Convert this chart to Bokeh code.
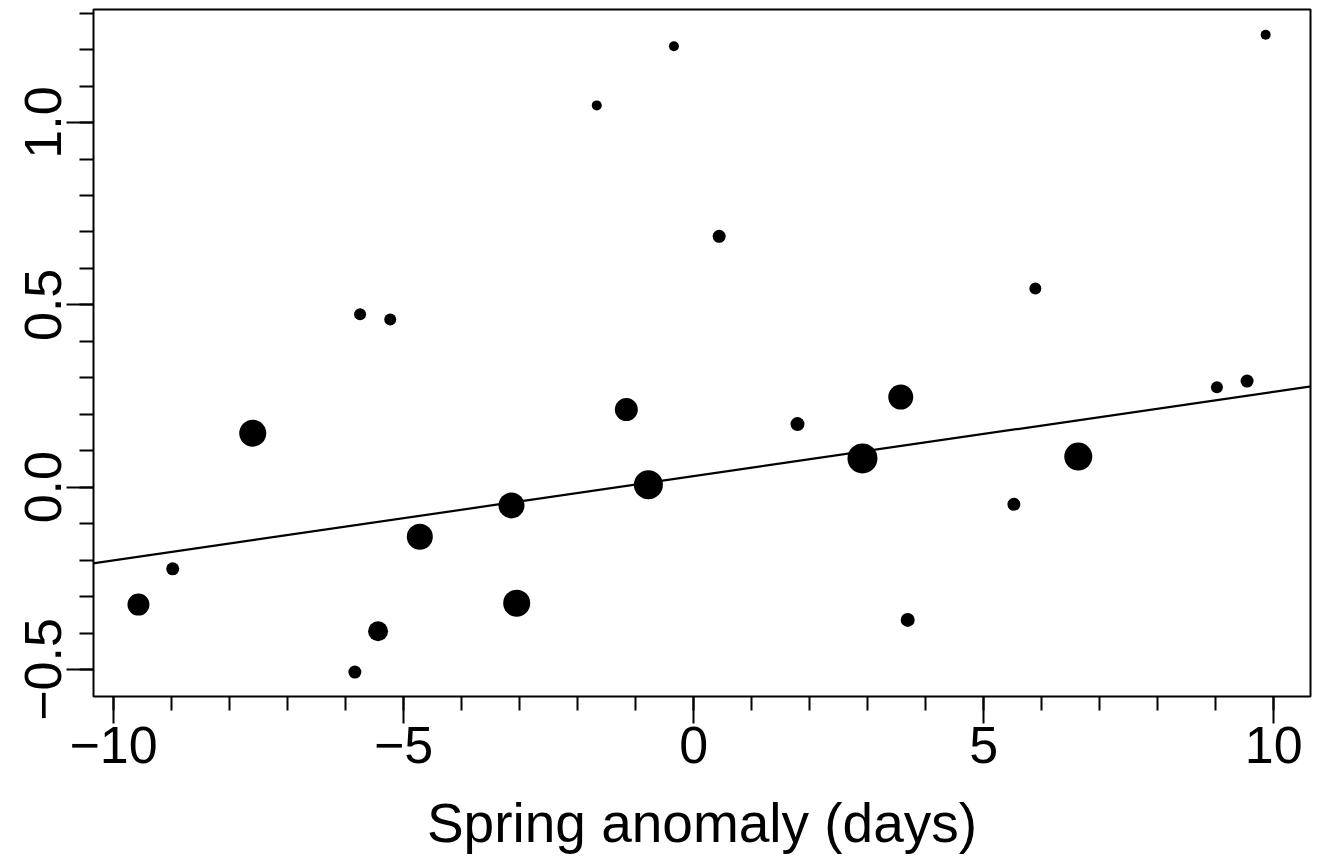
from bokeh.plotting import figure
from bokeh.models import FixedTicker, Slope, ColumnDataSource, Range1d
from bokeh.embed import file_html
from bokeh.resources import INLINE

# ---- data ----
spring_anomaly = [-9.57, -8.98, -7.60, -5.84, -5.75, -5.44, -5.23, -4.72, -3.14, -3.05,
                  -1.67, -1.16, -0.78, -0.34, 0.44, 1.79, 2.91, 3.57, 3.69, 5.52,
                  5.89, 6.63, 9.02, 9.54, 9.86]
response = [-0.322, -0.224, 0.148, -0.507, 0.474, -0.395, 0.460, -0.136, -0.050, -0.318,
            1.047, 0.213, 0.007, 1.209, 0.688, 0.173, 0.079, 0.247, -0.364, -0.047,
            0.545, 0.084, 0.274, 0.291, 1.241]
weight = [2.2, 1.3, 2.7, 1.3, 1.2, 2.0, 1.2, 2.6, 2.6, 2.7,
          1.0, 2.3, 2.9, 1.0, 1.3, 1.4, 3.0, 2.5, 1.4, 1.3,
          1.2, 2.8, 1.2, 1.3, 1.0]
fit_intercept = 0.0305
fit_slope = 0.0231

x_major = [-10, -5, 0, 5, 10]
x_labels = ["\u221210", "\u22125", "0", "5", "10"]
x_minor = list(range(-10, 11))
y_major = [-0.5, 0.0, 0.5, 1.0]
y_labels = ["\u22120.5", "0.0", "0.5", "1.0"]
y_minor = [-0.5, -0.4, -0.3, -0.2, -0.1, 0.0, 0.1, 0.2, 0.3, 0.4, 0.5,
           0.6, 0.7, 0.8, 0.9, 1.0, 1.1, 1.2, 1.3]
x_title = "Spring anomaly (days)"

FONT = "Liberation Sans"

src = ColumnDataSource(dict(x=spring_anomaly, y=response,
                            s=[w * 10 for w in weight]))

p = figure(width=1317, height=857, output_backend="svg", toolbar_location=None,
           x_range=Range1d(-10.345, 10.633), y_range=Range1d(-0.574, 1.310),
           min_border_left=93, min_border_right=7, min_border_top=9,
           min_border_bottom=161)
p.background_fill_color = "white"
p.border_fill_color = "white"
p.grid.visible = False
p.outline_line_color = "black"
p.outline_line_width = 2

p.scatter("x", "y", size="s", source=src, fill_color="black", line_color=None)
p.add_layout(Slope(gradient=fit_slope, y_intercept=fit_intercept,
                   line_color="black", line_width=2.2))

for ax, maj, mnr, labs in ((p.xaxis[0], x_major, x_minor, x_labels),
                           (p.yaxis[0], y_major, y_minor, y_labels)):
    ax.ticker = FixedTicker(ticks=maj, minor_ticks=mnr)
    ax.major_label_overrides = {m: l for m, l in zip(maj, labs)}
    ax.axis_line_color = None
    ax.major_tick_line_color = "black"
    ax.minor_tick_line_color = "black"
    ax.major_tick_line_width = 2
    ax.minor_tick_line_width = 2
    ax.major_tick_in = 0
    ax.minor_tick_in = 0
    ax.major_tick_out = 27
    ax.minor_tick_out = 14
    ax.major_label_text_font = FONT
    ax.major_label_text_font_size = "52px"
    ax.major_label_text_color = "black"

p.xaxis.major_label_standoff = 3
p.yaxis.major_label_standoff = 5
p.yaxis.major_label_orientation = "vertical"
p.xaxis.axis_label = x_title
p.xaxis.axis_label_text_font = FONT
p.xaxis.axis_label_text_font_size = "55px"
p.xaxis.axis_label_text_font_style = "normal"
p.xaxis.axis_label_text_color = "black"
p.xaxis.axis_label_standoff = 26

open("out.html", "w").write(file_html(p, INLINE))
